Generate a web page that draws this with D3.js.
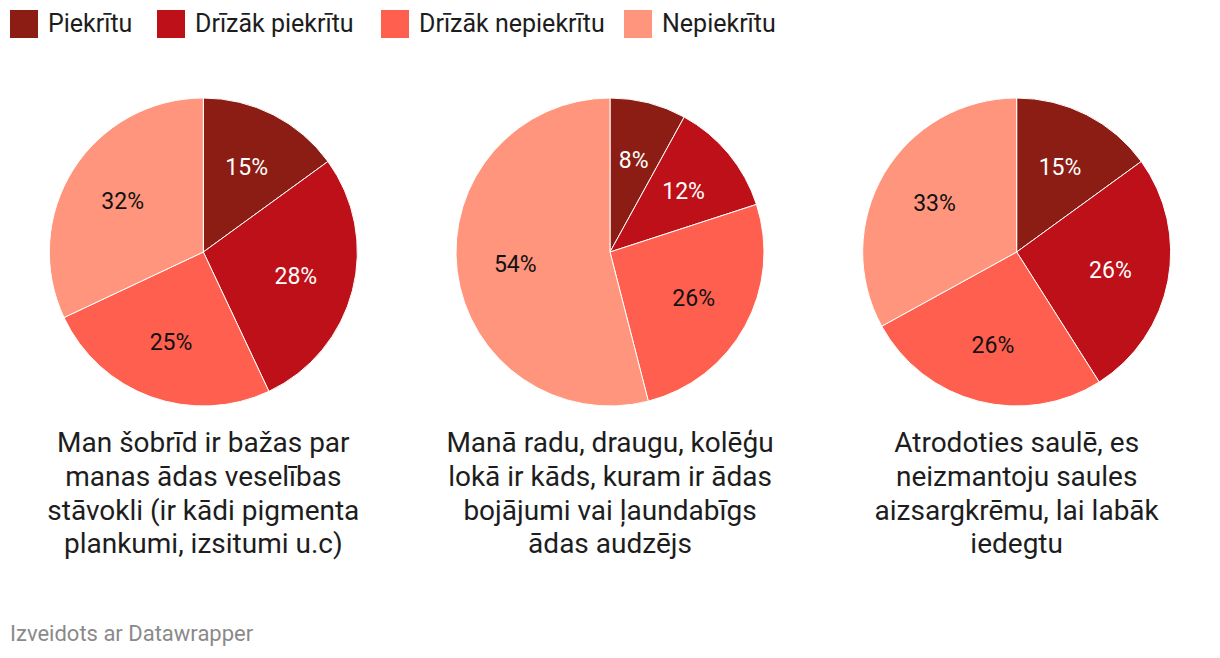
<!DOCTYPE html>
<html><head><meta charset="utf-8">
<script src="https://cdn.jsdelivr.net/npm/d3@7"></script>
<style>body{margin:0;background:#fff;font-family:Roboto,"Noto Sans",sans-serif;}</style>
</head><body><svg id="c" width="1220" height="658"></svg>
<script>
const categories = ["Piekrītu", "Drīzāk piekrītu", "Drīzāk nepiekrītu", "Nepiekrītu"];
const colors = ["#8c1d14", "#be1019", "#ff5f4f", "#ff957c"];
const labelColors = ["#ffffff", "#ffffff", "#111111", "#111111"];
const chartTitles = [
  ["Man šobrīd ir bažas par", "manas ādas veselības", "stāvokli (ir kādi pigmenta", "plankumi, izsitumi u.c)"],
  ["Manā radu, draugu, kolēģu", "lokā ir kāds, kuram ir ādas", "bojājumi vai ļaundabīgs", "ādas audzējs"],
  ["Atrodoties saulē, es", "neizmantoju saules", "aizsargkrēmu, lai labāk", "iedegtu"]
];
const values1 = [15, 28, 25, 32];
const values2 = [8, 12, 26, 54];
const values3 = [15, 26, 26, 33];
const allValues = [values1, values2, values3];
const footer = "Izveidots ar Datawrapper";

const svg = d3.select("#c");
const W = 1220;
const x = d3.scaleBand().domain(d3.range(3)).range([0, W]);
const R = 154, cy = 252;
const color = d3.scaleOrdinal().domain(categories).range(colors);

// legend
const legendX = [10, 157, 381, 624];
const lg = svg.append("g");
categories.forEach((c, i) => {
  const g = lg.append("g").attr("transform", `translate(${legendX[i]},10)`);
  g.append("rect").attr("width", 28).attr("height", 28).attr("fill", color(c));
  g.append("text").attr("x", 38).attr("y", 22).attr("font-size", 25).attr("fill", "#1d1d1d").text(c);
});

const pie = d3.pie().sort(null).value(d => d);
const arc = d3.arc().innerRadius(0).outerRadius(R);
const labelArc = d3.arc().innerRadius(R * 0.62).outerRadius(R * 0.62);

allValues.forEach((vals, k) => {
  const cx = x(k) + x.bandwidth() / 2;
  const g = svg.append("g").attr("transform", `translate(${cx},${cy})`);
  const arcs = pie(vals);
  g.selectAll("path").data(arcs).join("path")
    .attr("d", arc)
    .attr("fill", (d, i) => color(categories[i]))
    .attr("stroke", "#fff").attr("stroke-width", 1);
  g.selectAll("text.lbl").data(arcs).join("text").attr("class", "lbl")
    .attr("transform", d => `translate(${labelArc.centroid(d)})`)
    .attr("text-anchor", "middle").attr("dy", "0.35em")
    .attr("font-size", 23)
    .attr("fill", (d, i) => labelColors[i])
    .text(d => d.data + "%");
  const t = svg.append("text").attr("text-anchor", "middle").attr("font-size", 28).attr("fill", "#1d1d1d");
  chartTitles[k].forEach((line, j) => {
    t.append("tspan").attr("x", cx).attr("y", 452 + j * 33.8).text(line);
  });
});

svg.append("text").attr("x", 10).attr("y", 641).attr("font-size", 22).attr("fill", "#8a8a8a").text(footer);
</script></body></html>
